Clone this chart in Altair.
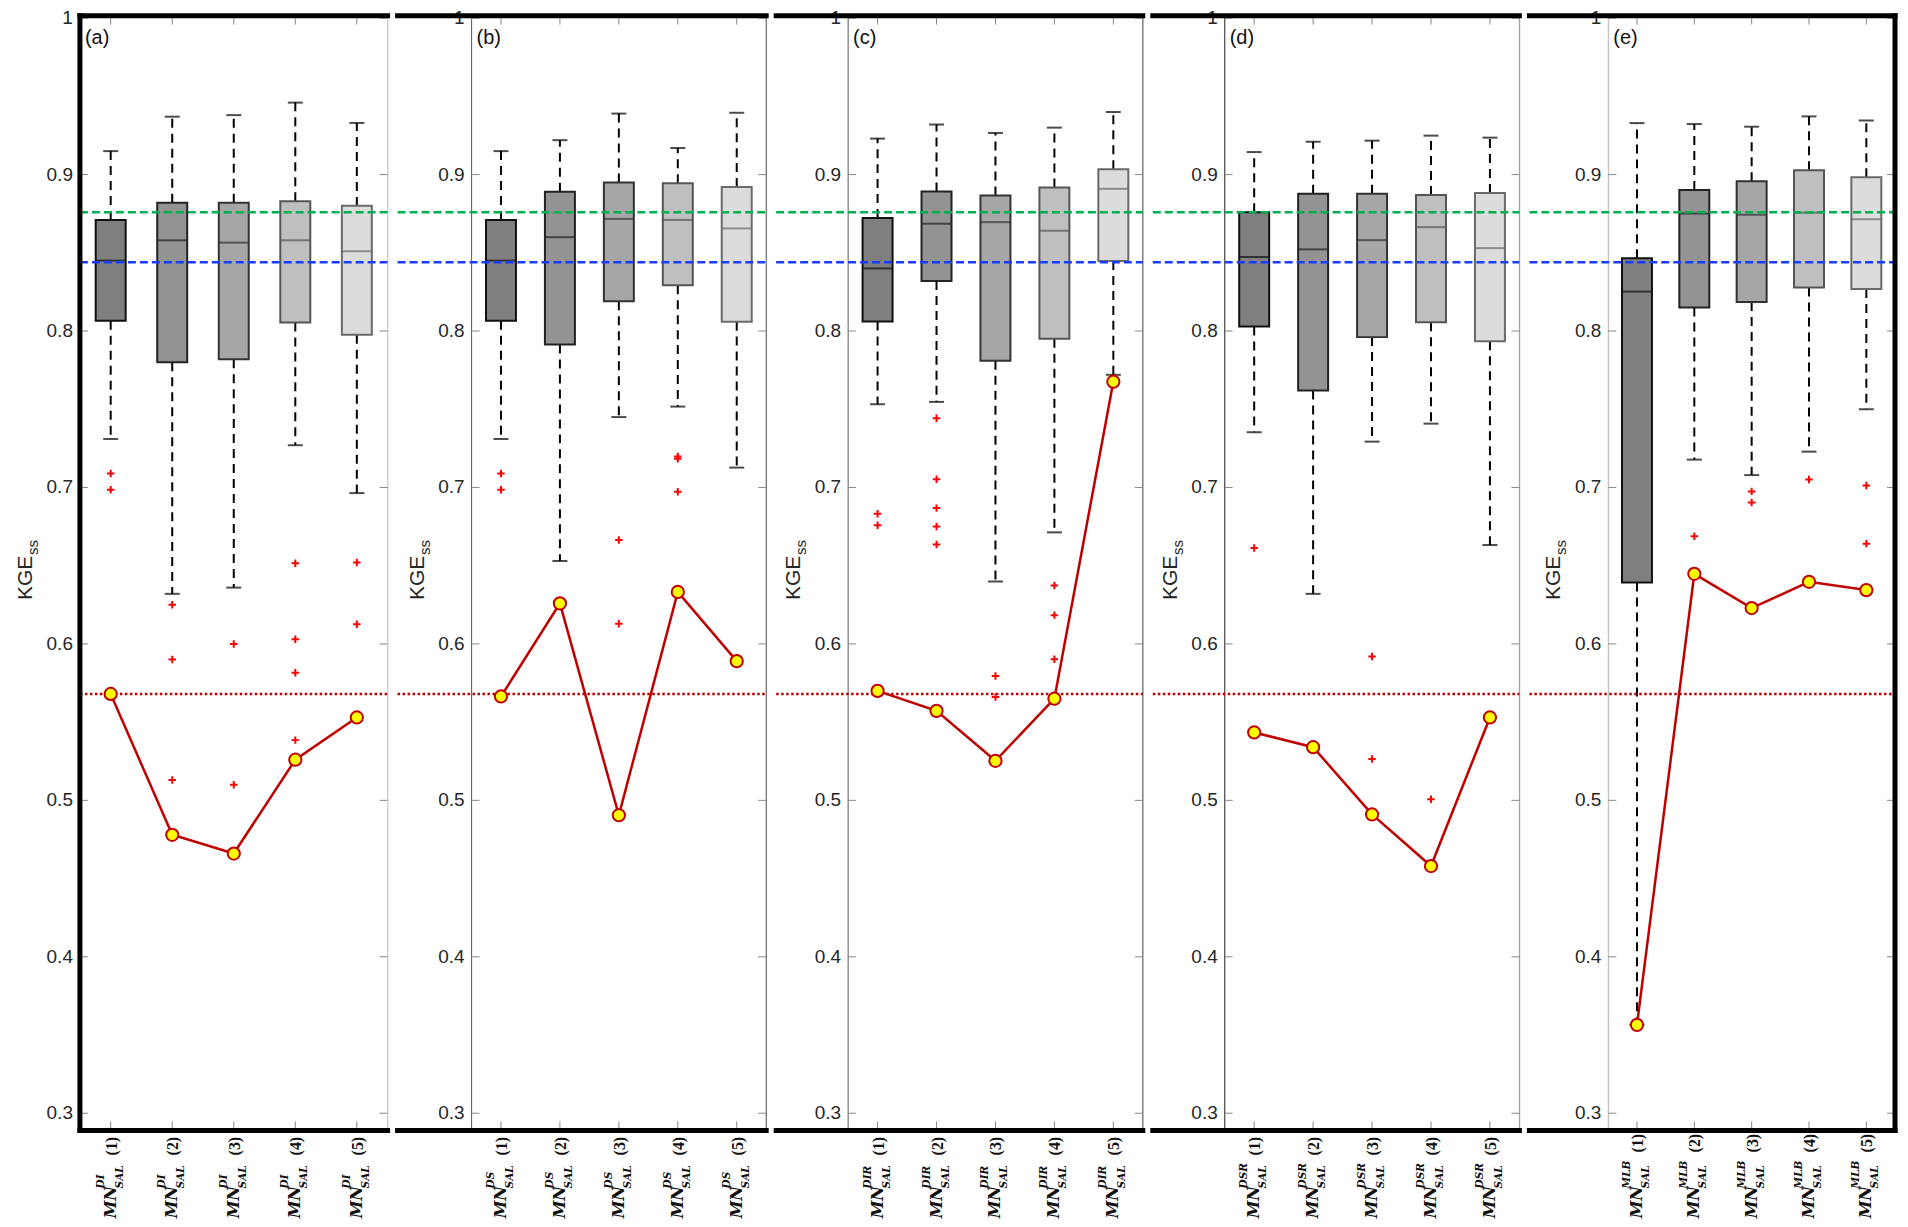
import altair as alt
import pandas as pd

# ---------------- data ----------------
CATS = [1, 2, 3, 4, 5]
TAGS = ["(a)", "(b)", "(c)", "(d)", "(e)"]
SUPERS = ["DI", "DS", "DIR", "DSR", "MLB"]
YTICKS = [0.3, 0.4, 0.5, 0.6, 0.7, 0.8, 0.9, 1.0]
YLABELS = ["0.3", "0.4", "0.5", "0.6", "0.7", "0.8", "0.9", "1"]

HI = [
    [0.915, 0.937, 0.938, 0.946, 0.933],
    [0.915, 0.922, 0.939, 0.917, 0.9395],
    [0.923, 0.932, 0.9266, 0.930, 0.940],
    [0.9144, 0.921, 0.9217, 0.9249, 0.9236],
    [0.9329, 0.9323, 0.9306, 0.9372, 0.9346],
]
Q3 = [
    [0.871, 0.882, 0.882, 0.883, 0.880],
    [0.871, 0.889, 0.895, 0.8945, 0.892],
    [0.8722, 0.8892, 0.8866, 0.8917, 0.9034],
    [0.876, 0.8877, 0.8877, 0.887, 0.8883],
    [0.8465, 0.8902, 0.8957, 0.9028, 0.8983],
]
MED = [
    [0.845, 0.858, 0.8565, 0.858, 0.851],
    [0.845, 0.860, 0.8717, 0.871, 0.8656],
    [0.840, 0.8686, 0.8696, 0.8641, 0.8909],
    [0.8473, 0.8522, 0.8581, 0.8664, 0.853],
    [0.8252, 0.8751, 0.8743, 0.8756, 0.8715],
]
Q1 = [
    [0.8065, 0.780, 0.782, 0.8055, 0.7976],
    [0.8065, 0.7914, 0.819, 0.8293, 0.806],
    [0.8061, 0.832, 0.781, 0.795, 0.8448],
    [0.8029, 0.762, 0.7961, 0.8056, 0.7934],
    [0.6392, 0.815, 0.8186, 0.8278, 0.8269],
]
LO = [
    [0.731, 0.632, 0.636, 0.727, 0.6964],
    [0.731, 0.653, 0.745, 0.7517, 0.7127],
    [0.7532, 0.7547, 0.6399, 0.6713, 0.772],
    [0.7353, 0.632, 0.7293, 0.7408, 0.6632],
    [0.3565, 0.7178, 0.7079, 0.7229, 0.750],
]
OUTLIERS = [
    [[0.709, 0.6985], [0.625, 0.590, 0.513], [0.600, 0.510],
     [0.6515, 0.603, 0.5815, 0.5385], [0.652, 0.6125]],
    [[0.709, 0.6985], [], [0.6664, 0.6129], [0.7198, 0.7183, 0.6972], []],
    [[0.6832, 0.6758], [0.7443, 0.7053, 0.6868, 0.675, 0.6635],
     [0.5795, 0.5661], [0.6373, 0.6184, 0.5902], []],
    [[0.6613], [], [0.5919, 0.5264], [0.5007], []],
    [[], [0.6688], [0.6975, 0.6904], [0.7051], [0.7013, 0.6641]],
]
LINE = [
    [0.568, 0.478, 0.466, 0.526, 0.553],
    [0.5664, 0.6259, 0.4905, 0.6332, 0.589],
    [0.570, 0.5572, 0.5253, 0.565, 0.7676],
    [0.5434, 0.534, 0.491, 0.458, 0.553],
    [0.3565, 0.6448, 0.6229, 0.6397, 0.6344],
]
REF_GREEN = [0.876]
REF_BLUE = [0.844]
REF_RED = [0.568]

# ---------------- styling ----------------
BOX_FILL = ["#7f7f7f", "#939393", "#a6a6a6", "#bfbfbf", "#dcdcdc"]
BOX_EDGE = ["#111111", "#222222", "#333333", "#555555", "#6a6a6a"]
H = 1116
WIDTHS = [308, 295, 295, 295, 287]
GAPS = [0, 74, 72, 72, 79]
LEFT_EDGE = ["#000000", "#666666", "#666666", "#333333", "#bbbbbb"]
RIGHT_EDGE = ["#cfcfcf", "#555555", "#555555", "#999999", "#000000"]
SANS = "Liberation Sans"
SERIF = "DejaVu Serif"
SERIF2 = "Liberation Serif"

yscale = alt.Scale(domain=[0.289, 1.0016], nice=False, zero=False)
xscale = alt.Scale(type="band", domain=CATS, paddingInner=0, paddingOuter=0)


def Y(field):
    return alt.Y(f"{field}:Q", scale=yscale, axis=None)


def X():
    return alt.X("cat:O", scale=xscale, axis=None)


def panel(p):
    w = WIDTHS[p]
    left = 0 if p == 0 else -GAPS[p]
    boxes = pd.DataFrame({"cat": CATS, "hi": HI[p], "q3": Q3[p], "med": MED[p],
                          "q1": Q1[p], "lo": LO[p]})
    outl = pd.DataFrame([{"cat": c, "v": v}
                         for c, vals in zip(CATS, OUTLIERS[p]) for v in vals])
    line = pd.DataFrame({"cat": CATS, "v": LINE[p]})
    yt = pd.DataFrame({"v": YTICKS, "lab": YLABELS})
    one = pd.DataFrame({"z": [0]})
    labs = pd.DataFrame({"cat": CATS, "mn": ["MN"] * 5, "sub": ["SAL"] * 5,
                         "sup": [SUPERS[p]] * 5, "num": [f"({c})" for c in CATS]})

    edges = [
        alt.Chart(one).mark_rule(color=LEFT_EDGE[p], strokeWidth=1).encode(
            x=alt.value(0), y=alt.value(0), y2=alt.value(H)),
        alt.Chart(one).mark_rule(color=RIGHT_EDGE[p], strokeWidth=1).encode(
            x=alt.value(w), y=alt.value(0), y2=alt.value(H)),
    ]
    ticks = [
        alt.Chart(yt).mark_rule(color="#888888").encode(
            y=Y("v"), x=alt.value(0), x2=alt.value(8)),
        alt.Chart(yt).mark_rule(color="#888888").encode(
            y=Y("v"), x=alt.value(w - 8), x2=alt.value(w)),
        alt.Chart(boxes).mark_rule(color="#888888").encode(
            x=X(), y=alt.value(0), y2=alt.value(9)),
        alt.Chart(boxes).mark_rule(color="#888888").encode(
            x=X(), y=alt.value(H - 9), y2=alt.value(H)),
        alt.Chart(yt).mark_text(
            align="right", baseline="middle", fontSize=19, font=SANS,
            color="#262626").encode(y=Y("v"), x=alt.value(-7), text="lab:N"),
    ]
    base = alt.Chart(boxes)
    whisk = [
        base.mark_rule(color="black", strokeWidth=2, strokeDash=[9, 6]).encode(
            x=X(), y=Y("q3"), y2="hi:Q"),
        base.mark_rule(color="black", strokeWidth=2, strokeDash=[9, 6]).encode(
            x=X(), y=Y("q1"), y2="lo:Q"),
        base.mark_tick(color="black", thickness=2, size=15).encode(x=X(), y=Y("hi")),
        base.mark_tick(color="black", thickness=2, size=15).encode(x=X(), y=Y("lo")),
    ]
    box = base.mark_bar(size=30, strokeWidth=2).encode(
        x=X(), y=Y("q1"), y2="q3:Q",
        fill=alt.Fill("cat:O", scale=alt.Scale(domain=CATS, range=BOX_FILL), legend=None),
        stroke=alt.Stroke("cat:O", scale=alt.Scale(domain=CATS, range=BOX_EDGE), legend=None),
    )
    med = base.mark_tick(thickness=2, size=30).encode(
        x=X(), y=Y("med"),
        color=alt.Color("cat:O", scale=alt.Scale(domain=CATS, range=BOX_EDGE), legend=None),
    )
    outs = alt.Chart(outl).mark_point(
        shape="M-1,0L1,0M0,-1L0,1", filled=False, stroke="#ff0000",
        strokeWidth=2, size=56, opacity=1).encode(x=X(), y=Y("v"))

    refs = [
        alt.Chart(pd.DataFrame({"v": REF_GREEN})).mark_rule(
            color="#00b050", strokeWidth=2.5, strokeDash=[8, 4]).encode(
            y=Y("v"), x=alt.value(left), x2=alt.value(w)),
        alt.Chart(pd.DataFrame({"v": REF_BLUE})).mark_rule(
            color="#1a3cff", strokeWidth=2.5, strokeDash=[8, 4]).encode(
            y=Y("v"), x=alt.value(left), x2=alt.value(w)),
        alt.Chart(pd.DataFrame({"v": REF_RED})).mark_rule(
            color="#c00000", strokeWidth=2.5, strokeDash=[2.5, 2.5]).encode(
            y=Y("v"), x=alt.value(left), x2=alt.value(w)),
    ]
    ln = alt.Chart(line).mark_line(color="#c00000", strokeWidth=2.5).encode(
        x=X(), y=Y("v"))
    pts = alt.Chart(line).mark_point(
        shape="circle", filled=True, fill="#ffff00", stroke="#c00000",
        strokeWidth=2, size=150, opacity=1).encode(x=X(), y=Y("v"))

    tag = alt.Chart(pd.DataFrame({"t": [TAGS[p]]})).mark_text(
        align="left", baseline="middle", fontSize=20, font=SANS, color="#111111").encode(
        text="t:N", x=alt.value(5), y=alt.value(22))
    ytitle = [
        alt.Chart(pd.DataFrame({"t": ["KGE"]})).mark_text(
            align="left", baseline="alphabetic", angle=270, fontSize=21,
            font=SANS, color="#262626").encode(
            text="t:N", x=alt.value(-48), y=alt.value(585)),
        alt.Chart(pd.DataFrame({"t": ["ss"]})).mark_text(
            align="left", baseline="alphabetic", angle=270, fontSize=15,
            font=SANS, color="#262626", dx=45, dy=6).encode(
            text="t:N", x=alt.value(-48), y=alt.value(585)),
    ]
    ylab = H + 88
    numdx = 66 if p == 4 else 63
    xlabels = [
        alt.Chart(labs).mark_text(
            align="left", baseline="alphabetic", angle=270, fontSize=16,
            font=SERIF, fontStyle="italic", fontWeight="bold", color="#111111",
            dy=5).encode(x=X(), y=alt.value(ylab), text="mn:N"),
        alt.Chart(labs).mark_text(
            align="left", baseline="alphabetic", angle=270, fontSize=10.5,
            font=SERIF, fontStyle="italic", fontWeight="bold", color="#111111",
            dx=30, dy=12).encode(x=X(), y=alt.value(ylab), text="sub:N"),
        alt.Chart(labs).mark_text(
            align="left", baseline="alphabetic", angle=270, fontSize=10.5,
            font=SERIF, fontStyle="italic", fontWeight="bold", color="#111111",
            dx=30, dy=-7).encode(x=X(), y=alt.value(ylab), text="sup:N"),
        alt.Chart(labs).mark_text(
            align="left", baseline="alphabetic", angle=270, fontSize=16,
            font=SERIF2, fontWeight="bold", color="#111111", dx=numdx, dy=6).encode(
            x=X(), y=alt.value(ylab), text="num:N"),
    ]
    frame = [
        alt.Chart(one).mark_rule(color="black", strokeWidth=5, strokeCap="square").encode(
            x=alt.value(left), x2=alt.value(w), y=alt.value(0)),
        alt.Chart(one).mark_rule(color="black", strokeWidth=5, strokeCap="square").encode(
            x=alt.value(left), x2=alt.value(w), y=alt.value(H)),
    ]
    if p == 0:
        frame.append(alt.Chart(one).mark_rule(color="black", strokeWidth=5, strokeCap="square").encode(
            x=alt.value(0), y=alt.value(0), y2=alt.value(H)))
    if p == 4:
        frame.append(alt.Chart(one).mark_rule(color="black", strokeWidth=5, strokeCap="square").encode(
            x=alt.value(w), y=alt.value(0), y2=alt.value(H)))

    layers = edges + ticks + whisk + [box, med, outs] + refs + [ln, pts, tag] + ytitle + xlabels + frame
    return alt.layer(*layers).properties(width=w, height=H)


chart = alt.hconcat(*[panel(p) for p in range(5)], spacing=0).properties(
    padding={"left": 6, "top": 0, "right": 0, "bottom": 0}
).configure_view(stroke=None).configure(font=SANS)

chart.save("out.html", embed_options={"renderer": "svg", "actions": False})
